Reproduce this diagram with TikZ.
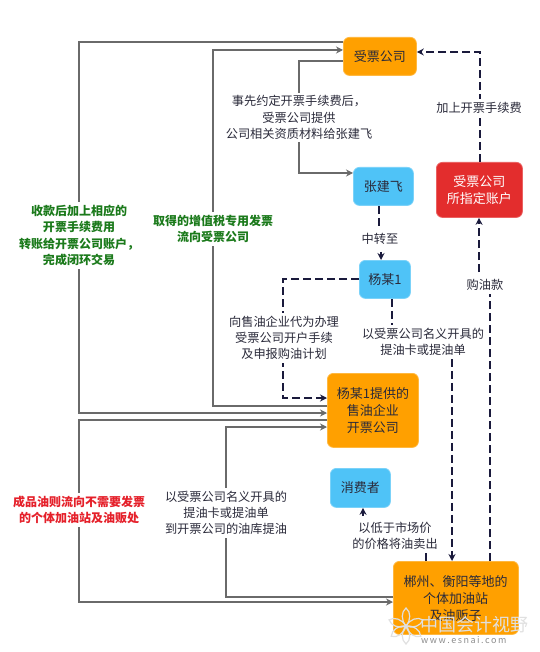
\documentclass[tikz,border=0pt]{standalone}
\usepackage{fontspec}
\setmainfont{Noto Sans CJK SC}
\usetikzlibrary{arrows.meta}
\definecolor{boxorange}{HTML}{FFA000}
\definecolor{boxblue}{HTML}{4FC3F7}
\definecolor{boxred}{HTML}{E32D2D}
\definecolor{lineg}{HTML}{6A6A6A}
\definecolor{lined}{HTML}{1A1A3C}
\definecolor{txt}{HTML}{2A2A3A}
\definecolor{greent}{HTML}{1B7A1B}
\definecolor{redt}{HTML}{E5202A}
\tikzset{
  x=1pt,y=-1pt,
  every node/.style={font=\fontsize{12.2}{16.3}\selectfont,text=txt,align=center,inner sep=0pt},
  bx/.style={rounded corners=6pt,draw=#1!75!white,fill=#1,line width=0.8pt,anchor=north west,text=txt,font=\fontsize{13}{16.7}\selectfont},
  solidl/.style={draw=lineg,line width=1.5pt},
  solida/.style={solidl,-{Stealth[length=7pt,width=7pt]}},
  dashl/.style={draw=lined,line width=1.5pt,dash pattern=on 8pt off 4pt},
  dasha/.style={dashl,-{Stealth[length=7pt,width=7pt]}},
  lab/.style={fill=white,inner xsep=1pt,inner ysep=3pt},
  glab/.style={lab,text=greent,font=\fontsize{12}{16.3}\selectfont\bfseries},
  rlab/.style={lab,text=redt,font=\fontsize{12}{16.3}\selectfont\bfseries},
}
\begin{document}
\begin{tikzpicture}
\useasboundingbox (0,0) rectangle (539,652);
\node[bx=boxorange,minimum width=73pt,minimum height=38pt] (sp) at (343,37) {受票公司};
\node[bx=boxblue,minimum width=60pt,minimum height=38pt] (zjf) at (353,167) {张建飞};
\node[bx=boxblue,minimum width=51pt,minimum height=38pt] (ym) at (359,260) {杨某1};
\node[bx=boxred,minimum width=86pt,minimum height=55pt,text=white] (acc) at (436,162) {受票公司\\所指定账户};
\node[bx=boxorange,minimum width=91pt,minimum height=74pt] (kp) at (327,373) {杨某1提供的\\售油企业\\开票公司};
\node[bx=boxblue,minimum width=60pt,minimum height=39pt] (xf) at (330,468) {消费者};
\node[bx=boxorange,minimum width=125pt,minimum height=73pt] (cz) at (393,561) {};
\node[text=txt,anchor=center,font=\fontsize{13}{16.7}\selectfont] (cztxt) at (455.5,598.5) {郴州、衡阳等地的\\个体加油站\\及油贩子};
% solid connectors
\coordinate (a1) at (79,42); \coordinate (a2) at (79,413);
\draw[solida] (sp.west|-a1) -- (a1) -- (a2) -- (kp.west|-a2);
\coordinate (b1) at (213,406); \coordinate (b2) at (213,50);
\draw[solida] (kp.west|-b1) -- (b1) -- (b2) -- (sp.west|-b2);
\coordinate (c1) at (299,61); \coordinate (c2) at (299,173);
\draw[solida] (sp.west|-c1) -- (c1) -- (c2) -- (zjf.west|-c2);
\coordinate (d1) at (79,420); \coordinate (d2) at (79,602);
\draw[solida] (kp.west|-d1) -- (d1) -- (d2) -- (cz.west|-d2);
\coordinate (e1) at (226,597); \coordinate (e2) at (226,427);
\draw[solida] (cz.west|-e1) -- (e1) -- (e2) -- (kp.west|-e2);
% dashed connectors
\coordinate (z1) at (379,235); \coordinate (z2) at (381,235);
\draw[dasha] (zjf.south-|z1) -- (z1) -- (z2) -- (ym.north-|z2);
\coordinate (f1) at (283,279); \coordinate (f2) at (283,398);
\draw[dasha] (ym.west|-f1) -- (f1) -- (f2) -- (kp.west|-f2);
\coordinate (g1) at (392,342); \coordinate (g2) at (452,342);
\draw[dasha] (ym.south-|g1) -- (g1) -- (g2) -- (cz.north-|g2);
\coordinate (h1) at (490,285); \coordinate (h2) at (479,285);
\draw[dasha] (cz.north-|h1) -- (h1) -- (h2) -- (acc.south-|h2);
\coordinate (i1) at (480,52);
\draw[dasha] (acc.north-|i1) -- (i1) -- (sp.east|-i1);
\coordinate (j1) at (426,536); \coordinate (j2) at (363,536);
\draw[dasha] (cz.north-|j1) -- (j1) -- (j2) -- (xf.south-|j2);
% labels
\node[lab] (l1) at (299,117.5) {事先约定开票手续费后，\\受票公司提供\\公司相关资质材料给张建飞};
\node[lab] (l2) at (380,239) {中转至};
\node[lab] (l3) at (479,108) {加上开票手续费};
\node[lab] (l4) at (485,285) {购油款};
\node[lab] (l5) at (284,338) {向售油企业代为办理\\受票公司开户手续\\及申报购油计划};
\node[lab] (l6) at (423,342) {以受票公司名义开具的\\提油卡或提油单};
\node[lab] (l7) at (226,513) {以受票公司名义开具的\\提油卡或提油单\\到开票公司的油库提油};
\node[lab] (l8) at (395,536) {以低于市场价\\的价格将油卖出};
\node[glab] (l9) at (79,235.5) {收款后加上相应的\\开票手续费用\\转账给开票公司账户，\\完成闭环交易};
\node[glab] (l10) at (213,229) {取得的增值税专用发票\\流向受票公司};
\node[rlab] (l11) at (79,510) {成品油则流向不需要发票\\的个体加油站及油贩处};
% watermark
\begin{scope}[line width=1.2pt,draw=white!88!black]
\foreach \a in {20,90,160,215,270,325}
  \draw[rotate around={\a:(406,626)}] (406,626) .. controls (412,621) and (420,621) .. (424,626) .. controls (420,631) and (412,631) .. (406,626);
\end{scope}
\node[anchor=west,text=white!88!black] (wm1) at (420,625) {\fontsize{18}{18}\selectfont 中国会计视野};
\node[anchor=west,text=black!45] (wm2) at (421,640) {\fontsize{9}{9}\selectfont w\,w\,w\,.\,e\,s\,n\,a\,i\,.\,c\,o\,m};
\end{tikzpicture}
\end{document}
